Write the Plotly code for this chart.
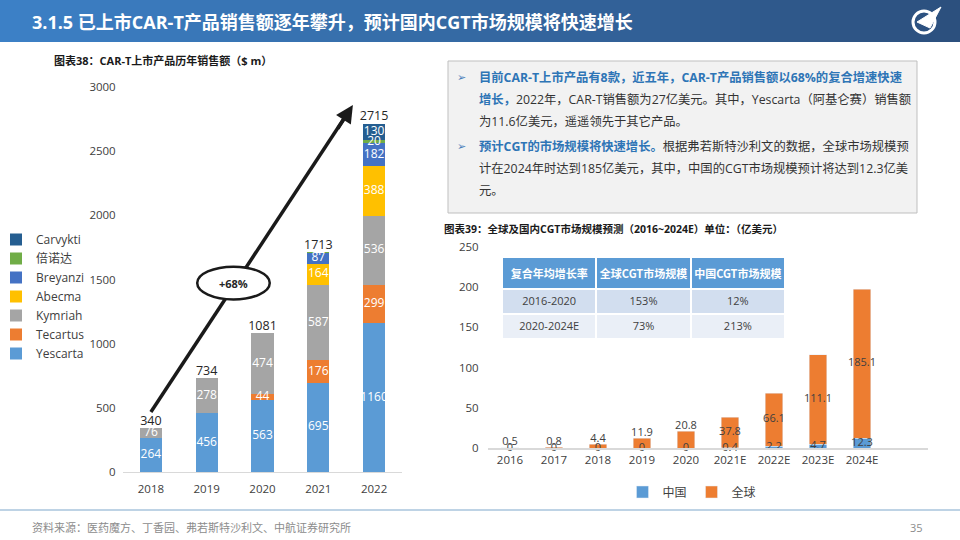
import plotly.graph_objects as go

W, H = 960, 540
def px(x): return x / W
def py(y): return 1 - y / H

# ---------------- data ----------------
years_left = ["2018", "2019", "2020", "2021", "2022"]
yescarta = [264, 456, 563, 695, 1160]
tecartus = [0, 0, 44, 176, 299]
kymriah = [76, 278, 474, 587, 536]
abecma = [0, 0, 0, 164, 388]
breyanzi = [0, 0, 0, 87, 182]
beinuoda = [0, 0, 0, 4, 20]
carvykti = [0, 0, 0, 0, 130]
totals = [340, 734, 1081, 1713, 2715]

years_right = ["2016", "2017", "2018", "2019", "2020", "2021E", "2022E", "2023E", "2024E"]
china = [0, 0, 0, 0, 0, 0.4, 2.2, 4.7, 12.3]
global_mkt = [0.5, 0.8, 4.4, 11.9, 20.8, 37.8, 66.1, 111.1, 185.1]

table_header = ["复合年均增长率", "全球CGT市场规模", "中国CGT市场规模"]
table_periods = ["2016-2020", "2020-2024E"]
table_global = ["153%", "73%"]
table_china = ["12%", "213%"]

FONT = "Open Sans, Noto Sans CJK SC, sans-serif"
CJK = "Noto Sans CJK SC, sans-serif"

series = [
    ("Yescarta", yescarta, "#5b9bd5"),
    ("Tecartus", tecartus, "#ed7d31"),
    ("Kymriah", kymriah, "#a5a5a5"),
    ("Abecma", abecma, "#ffc000"),
    ("Breyanzi", breyanzi, "#4472c4"),
    ("倍诺达", beinuoda, "#70ad47"),
    ("Carvykti", carvykti, "#255e91"),
]

fig = go.Figure()

# ---------------- left stacked bars ----------------
base = [0] * len(years_left)
for name, vals, col in series:
    fig.add_trace(go.Bar(x=years_left, y=vals, name=name, marker_color=col,
                         marker_line_width=0, xaxis="x", yaxis="y", legend="legend"))
    lx, ly, lt = [], [], []
    for i, v in enumerate(vals):
        if v > 0:
            lx.append(years_left[i]); ly.append(base[i] + v / 2); lt.append(str(v))
        base[i] += v
    fig.add_trace(go.Scatter(x=lx, y=ly, text=lt, mode="text", textposition="middle center",
                             textfont=dict(color="white", size=12, family=FONT),
                             showlegend=False, hoverinfo="skip", xaxis="x", yaxis="y"))

fig.add_trace(go.Scatter(x=years_left, y=totals, text=[str(t) for t in totals], mode="text",
                         textposition="top center", textfont=dict(color="#262626", size=12.5, family=FONT),
                         showlegend=False, hoverinfo="skip", xaxis="x", yaxis="y", cliponaxis=False))

# ---------------- right stacked bars ----------------
fig.add_trace(go.Bar(x=years_right, y=china, name="中国", marker_color="#5b9bd5",
                     xaxis="x2", yaxis="y2", legend="legend2"))
fig.add_trace(go.Bar(x=years_right, y=global_mkt, name="全球", marker_color="#ed7d31",
                     xaxis="x2", yaxis="y2", legend="legend2"))
fig.add_trace(go.Scatter(x=years_right, y=[c / 2 for c in china], text=[f"{c:g}" for c in china],
                         mode="text", textposition="middle center",
                         textfont=dict(color="#404040", size=11, family=FONT),
                         showlegend=False, hoverinfo="skip", xaxis="x2", yaxis="y2", cliponaxis=False))
g_y = [c + (g / 2 if g >= 30 else g) for c, g in zip(china, global_mkt)]
g_pos = ["middle center" if g >= 30 else "top center" for g in global_mkt]
fig.add_trace(go.Scatter(x=years_right, y=g_y, text=[f"{g:g}" for g in global_mkt],
                         mode="text", textposition=g_pos,
                         textfont=dict(color="#404040", size=11, family=FONT),
                         showlegend=False, hoverinfo="skip", xaxis="x2", yaxis="y2", cliponaxis=False))

# ---------------- table ----------------
fig.add_trace(go.Table(
    domain=dict(x=[px(502), px(786)], y=[py(342), py(257)]),
    columnwidth=[1, 1, 1],
    header=dict(values=[f"<b>{h}</b>" for h in table_header], fill_color="#5b9bd5",
                line=dict(color="white", width=2), height=30,
                font=dict(color="white", size=11, family=CJK), align="center"),
    cells=dict(values=[table_periods, table_global, table_china],
               fill_color=[["#d2deef", "#eaeff7"]] * 3,
               line=dict(color="white", width=2), height=25,
               font=dict(color="#404040", size=11, family=FONT), align="center"),
))

shapes = []
# title bar gradient
c0, c1 = (60, 128, 198), (44, 80, 126)
N = 48
for i in range(N):
    t = i / (N - 1)
    col = "rgb(%d,%d,%d)" % tuple(round(a + (b - a) * t) for a, b in zip(c0, c1))
    shapes.append(dict(type="rect", xref="paper", yref="paper", x0=px(i * 20), x1=px(i * 20 + 21),
                       y0=py(42), y1=py(0), fillcolor=col, line_width=0, layer="below"))
# logo
shapes.append(dict(type="circle", xref="paper", yref="paper", x0=px(913), x1=px(935), y0=py(33), y1=py(11),
                   line=dict(color="white", width=3)))
shapes.append(dict(type="path", xref="paper", yref="paper",
                   path=f"M{px(917)},{py(22)} L{px(941)},{py(7)} L{px(930)},{py(28)} Z",
                   fillcolor="white", line=dict(color="white", width=1)))
# text box
shapes.append(dict(type="rect", xref="paper", yref="paper", x0=px(448), x1=px(917), y0=py(213), y1=py(61),
                   fillcolor="#f2f2f2", line=dict(color="#bfbfbf", width=1), layer="below"))
# footer line
shapes.append(dict(type="line", xref="paper", yref="paper", x0=0, x1=1, y0=py(510), y1=py(510),
                   line=dict(color="#a9c4dc", width=1.5)))
# arrow shaft and ellipse (left chart)
shapes.append(dict(type="line", xref="x", yref="y", x0=0, y0=467, x1=3.52, y1=2794,
                   line=dict(color="#1a1a1a", width=3.5)))
shapes.append(dict(type="circle", xref="x", yref="y", x0=0.83, x1=2.13, y0=1345, y1=1600,
                   fillcolor="white", line=dict(color="#1a1a1a", width=2.5)))

ann = []
ann.append(dict(xref="paper", yref="paper", x=px(30), y=py(22), xanchor="left", yanchor="middle",
                text="<b>3.1.5 已上市CAR-T产品销售额逐年攀升，预计国内CGT市场规模将快速增长</b>",
                showarrow=False, font=dict(color="white", size=18, family=FONT)))
ann.append(dict(xref="paper", yref="paper", x=px(52), y=py(61), xanchor="left", yanchor="middle",
                text="<b>图表38：CAR-T上市产品历年销售额（$ m）</b>",
                showarrow=False, font=dict(color="#1a1a1a", size=11, family=FONT)))
ann.append(dict(xref="paper", yref="paper", x=px(442), y=py(229), xanchor="left", yanchor="middle",
                text="<b>图表39：全球及国内CGT市场规模预测（2016~2024E）单位：（亿美元）</b>",
                showarrow=False, font=dict(color="#1a1a1a", size=10.5, family=FONT)))
B = "<b><span style='color:#2e75b6'>%s</span></b>"
lines = [
    (78, B % "目前CAR-T上市产品有8款，近五年，CAR-T产品销售额以68%的复合增速快速"),
    (100, B % "增长，" + "2022年，CAR-T销售额为27亿美元。其中，Yescarta（阿基仑赛）销售额"),
    (122, "为11.6亿美元，遥遥领先于其它产品。"),
    (147, B % "预计CGT的市场规模将快速增长。" + "根据弗若斯特沙利文的数据，全球市场规模预"),
    (169, "计在2024年时达到185亿美元，其中，中国的CGT市场规模预计将达到12.3亿美"),
    (191, "元。"),
]
for y, t in lines:
    ann.append(dict(xref="paper", yref="paper", x=px(477), y=py(y), xanchor="left", yanchor="middle",
                    text=t, showarrow=False, font=dict(color="#333333", size=12.3, family=FONT)))
for y in (78, 147):
    ann.append(dict(xref="paper", yref="paper", x=px(455), y=py(y), xanchor="left", yanchor="middle",
                    text="➢", showarrow=False, font=dict(color="#4a7ebb", size=11, family="DejaVu Sans")))
# +68%
ann.append(dict(xref="x", yref="y", x=1.48, y=1472, text="<b>+68%</b>", showarrow=False,
                font=dict(color="#262626", size=11, family=FONT)))
# arrow head
ann.append(dict(xref="x", yref="y", x=3.62, y=2860, ax=-16, ay=25, text="", showarrow=True,
                arrowhead=2, arrowsize=1, arrowwidth=3.5, arrowcolor="#1a1a1a", standoff=0))
# footer
ann.append(dict(xref="paper", yref="paper", x=px(30), y=py(527), xanchor="left", yanchor="middle",
                text="资料来源：医药魔方、丁香园、弗若斯特沙利文、中航证券研究所", showarrow=False,
                font=dict(color="#8c8c8c", size=11, family=CJK)))
ann.append(dict(xref="paper", yref="paper", x=px(925), y=py(527), xanchor="right", yanchor="middle",
                text="35", showarrow=False, font=dict(color="#8c8c8c", size=11, family=FONT)))

fig.update_layout(
    width=W, height=H, autosize=False,
    margin=dict(l=0, r=0, t=0, b=0, autoexpand=False),
    paper_bgcolor="white", plot_bgcolor="rgba(0,0,0,0)",
    barmode="stack", bargap=0.6,
    font=dict(family=FONT, color="#404040"),
    shapes=shapes, annotations=ann,
    xaxis=dict(domain=[px(123), px(402)], range=[-0.5, 4.5], type="category",
               showline=True, linecolor="#d9d9d9", linewidth=1, showgrid=False,
               ticks="outside", ticklen=6, tickcolor="rgba(0,0,0,0)",
               tickfont=dict(size=11.5, color="#404040"), anchor="y", fixedrange=True),
    yaxis=dict(domain=[py(472), py(87)], range=[0, 3000], dtick=500, showgrid=False,
               showline=False, zeroline=False, ticks="outside", ticklen=4, tickcolor="rgba(0,0,0,0)",
               tickfont=dict(size=11.5, color="#404040"), anchor="x", fixedrange=True),
    xaxis2=dict(domain=[px(488), px(928)], range=[-0.5, 9.5], type="category",
                showline=True, linecolor="#d9d9d9", linewidth=1.5, showgrid=False,
                tickfont=dict(size=11.5, color="#404040"), anchor="y2", fixedrange=True),
    yaxis2=dict(domain=[py(448), py(247)], range=[0, 250], dtick=50, showgrid=False,
                showline=False, zeroline=False, ticks="outside", ticklen=6, tickcolor="rgba(0,0,0,0)",
                tickfont=dict(size=11.5, color="#404040"), anchor="x2", fixedrange=True),
    legend=dict(x=px(-4), y=py(225), xanchor="left", yanchor="top", traceorder="reversed",
                font=dict(size=12, color="#404040"), bgcolor="rgba(0,0,0,0)", tracegroupgap=0),
    legend2=dict(x=px(692), y=py(492), xanchor="center", yanchor="middle", orientation="h",
                 traceorder="normal", font=dict(size=12, color="#404040"), bgcolor="rgba(0,0,0,0)"),
)

fig.write_html("out.html", config={"displayModeBar": False},
               post_script="document.body.style.margin='0';document.body.style.overflow='hidden';")
